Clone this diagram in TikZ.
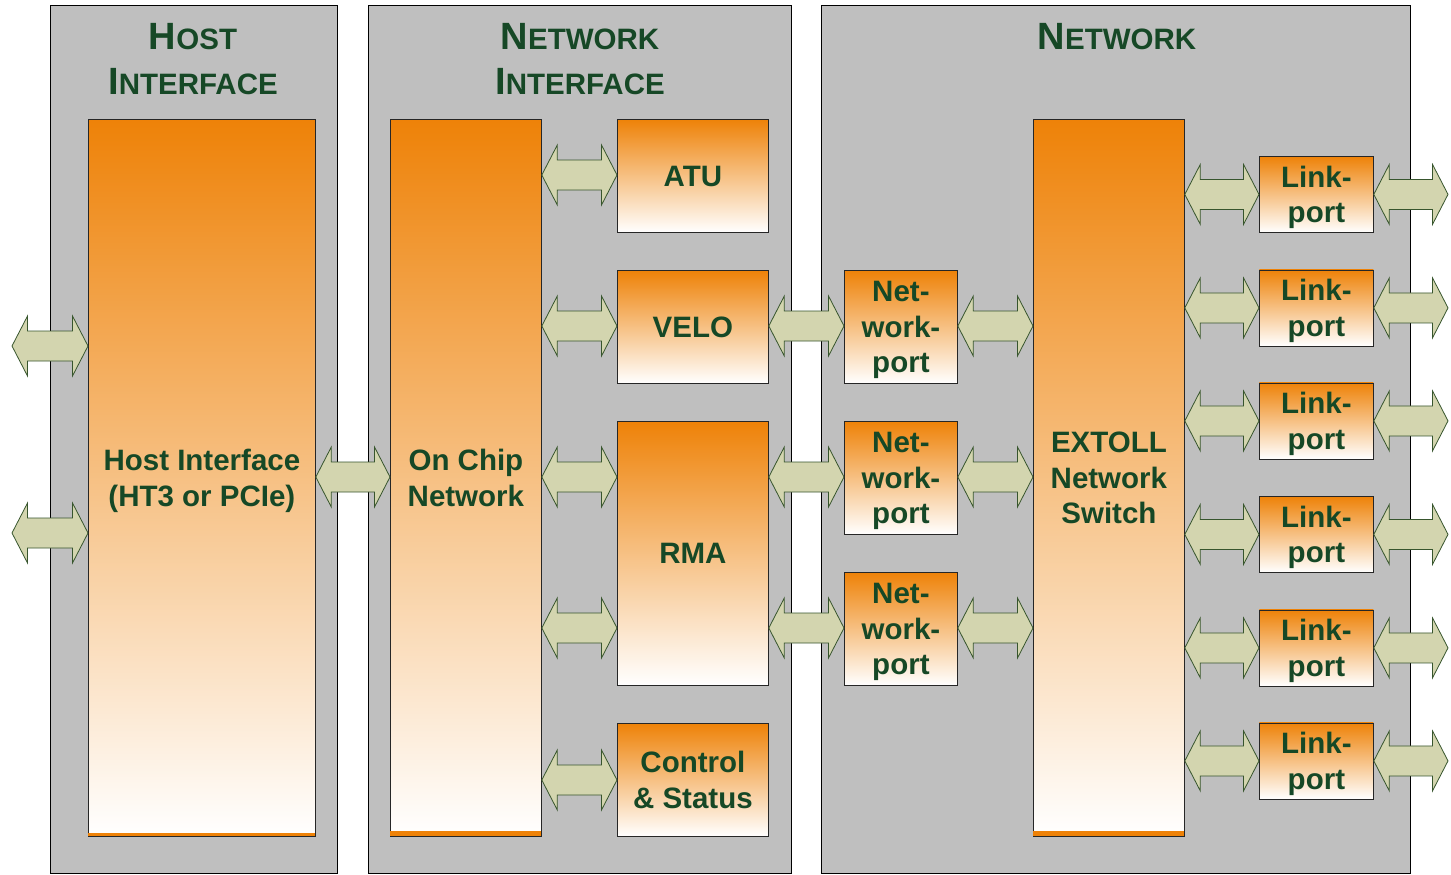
\documentclass[tikz,border=0pt]{standalone}
\usepackage{fontspec}
\setmainfont{Liberation Sans}
\usetikzlibrary{calc}

\definecolor{txtgreen}{RGB}{22,72,38}
\definecolor{panelgray}{RGB}{191,191,191}
\definecolor{orng}{RGB}{238,130,8}
\definecolor{arrfill}{RGB}{211,213,175}
\definecolor{arrline}{RGB}{55,85,45}

% fake small caps for the panel titles
\newcommand\tbig[1]{{\fontsize{38}{45}\selectfont #1}}
\newcommand\tsml[1]{{\fontsize{29.5}{45}\selectfont #1}}

% double-headed block arrow between two points on one horizontal line
\newcommand\dblarrow[2]{%
  \path[dblarr] let \p1=#1, \p2=#2 in
    (\x1,\y1) -- ++(15.5pt,30pt) -- ++(0,-15pt) -- (\x2-15.5pt,\y1+15pt)
    -- ++(0,15pt) -- (\x2,\y1) -- ++(-15.5pt,-30pt) -- ++(0,15pt)
    -- (\x1+15.5pt,\y1-15pt) -- ++(0,-15pt) -- cycle;}

\tikzset{
  panel/.style={draw=black, fill=panelgray, line width=1pt, anchor=north west,
    inner sep=0pt},
  obox/.style={draw=black!85, line width=0.8pt, top color=orng, bottom color=white,
    anchor=north west, inner sep=0pt, align=center, text=txtgreen,
    font=\fontsize{29.5}{35.5}\selectfont\bfseries, text depth=-2pt},
  title/.style={text=txtgreen, font=\bfseries, anchor=base, inner sep=0pt},
  dblarr/.style={fill=arrfill, draw=arrline, line width=0.8pt, line join=miter},
  strip/.style={fill=orng},
}

\begin{document}
\begin{tikzpicture}[x=1pt, y=-1pt]
\useasboundingbox (0,0) rectangle (1451,875);

% ---- panels ----
\node[panel, minimum width=287, minimum height=868] (hostpanel) at (50,5) {};
\node[panel, minimum width=423, minimum height=868] (nipanel) at (368,5) {};
\node[panel, minimum width=589, minimum height=868] (netpanel) at (821,5) {};

% ---- panel titles ----
\node[title] (t1a) at (193,49.5) {\tbig{H}\tsml{OST}};
\node[title] (t1b) at (193,94.5) {\tbig{I}\tsml{NTERFACE}};
\node[title] (t2a) at (580,49.5) {\tbig{N}\tsml{ETWORK}};
\node[title] (t2b) at (580,94.5) {\tbig{I}\tsml{NTERFACE}};
\node[title] (t3a) at (1117,49.5) {\tbig{N}\tsml{ETWORK}};

% ---- tall blocks ----
\node[obox, minimum width=227, minimum height=717] (hostbar) at (88,119)
  {Host Interface\\(HT3 or PCIe)};
\node[obox, minimum width=151, minimum height=717] (ocn) at (390,119)
  {On Chip\\Network};
\node[obox, minimum width=151, minimum height=717] (switch) at (1033,119)
  {EXTOLL\\Network\\Switch};
\fill[strip] ($(hostbar.south west)+(0.4pt,0)$) rectangle ($(hostbar.south east)+(-0.4pt,3.5pt)$);
\fill[strip] ($(ocn.south west)+(0.4pt,0)$) rectangle ($(ocn.south east)+(-0.4pt,6pt)$);
\fill[strip] ($(switch.south west)+(0.4pt,0)$) rectangle ($(switch.south east)+(-0.4pt,6pt)$);
\draw[black!85, line width=0.8pt] (hostbar.south west) -- (hostbar.south east);
\draw[black!85, line width=0.8pt] (ocn.south west) -- (ocn.south east);
\draw[black!85, line width=0.8pt] (switch.south west) -- (switch.south east);

% ---- network interface units ----
\node[obox, minimum width=151, minimum height=113] (atu) at (617,119) {ATU};
\node[obox, minimum width=151, minimum height=113] (velo) at (617,270) {VELO};
\node[obox, minimum width=151, minimum height=264] (rma) at (617,421) {RMA};
\node[obox, minimum width=151, minimum height=113] (ctl) at (617,723) {Control\\\& Status};

% ---- network ports ----
\node[obox, minimum width=113, minimum height=113] (np1) at (844,270) {Net-\\work-\\port};
\node[obox, minimum width=113, minimum height=113] (np2) at (844,421) {Net-\\work-\\port};
\node[obox, minimum width=113, minimum height=113] (np3) at (844,572) {Net-\\work-\\port};

% ---- link ports ----
\node[obox, minimum width=114, minimum height=76] (lp1) at (1259,156) {Link-\\port};
\node[obox, minimum width=114, minimum height=76] (lp2) at (1259,269.5) {Link-\\port};
\node[obox, minimum width=114, minimum height=76] (lp3) at (1259,382.5) {Link-\\port};
\node[obox, minimum width=114, minimum height=76] (lp4) at (1259,496) {Link-\\port};
\node[obox, minimum width=114, minimum height=76] (lp5) at (1259,609.5) {Link-\\port};
\node[obox, minimum width=114, minimum height=76] (lp6) at (1259,722.5) {Link-\\port};

% ---- arrow rows and free ends ----
\coordinate (ra) at (0,175);
\coordinate (rb) at (0,326);
\coordinate (rc) at (0,477);
\coordinate (rd) at (0,628);
\coordinate (re) at (0,780);
\coordinate (hin1) at (12,346);
\coordinate (hin2) at (12,533);
\coordinate (lo1) at (1448,194);
\coordinate (lo2) at (1448,307.5);
\coordinate (lo3) at (1448,420.5);
\coordinate (lo4) at (1448,534);
\coordinate (lo5) at (1448,647.5);
\coordinate (lo6) at (1448,760.5);

% host side
\dblarrow{(hin1)}{(hostbar.west |- hin1)}
\dblarrow{(hin2)}{(hostbar.west |- hin2)}
\dblarrow{(hostbar.east |- rc)}{(ocn.west |- rc)}

% on chip network to units
\dblarrow{(ocn.east |- ra)}{(atu.west |- ra)}
\dblarrow{(ocn.east |- rb)}{(velo.west |- rb)}
\dblarrow{(ocn.east |- rc)}{(rma.west |- rc)}
\dblarrow{(ocn.east |- rd)}{(rma.west |- rd)}
\dblarrow{(ocn.east |- re)}{(ctl.west |- re)}

% units to network ports
\dblarrow{(velo.east |- rb)}{(np1.west |- rb)}
\dblarrow{(rma.east |- rc)}{(np2.west |- rc)}
\dblarrow{(rma.east |- rd)}{(np3.west |- rd)}

% network ports to switch
\dblarrow{(np1.east |- rb)}{(switch.west |- rb)}
\dblarrow{(np2.east |- rc)}{(switch.west |- rc)}
\dblarrow{(np3.east |- rd)}{(switch.west |- rd)}

% switch to link ports and links out
\foreach \i in {1,...,6} {
  \dblarrow{(switch.east |- lp\i.west)}{(lp\i.west)}
  \dblarrow{(lp\i.east)}{(lo\i)}
}
\end{tikzpicture}
\end{document}
